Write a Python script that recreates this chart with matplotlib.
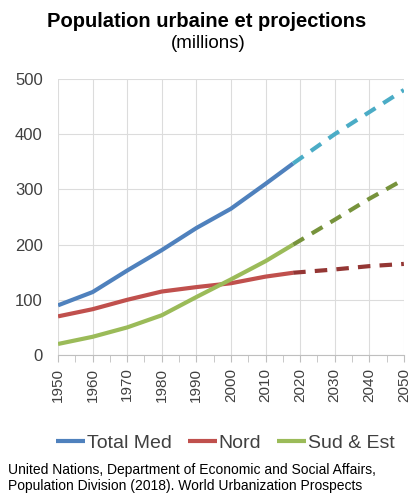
import matplotlib.pyplot as plt
import numpy as np

plt.rcParams['font.family'] = ['Liberation Sans', 'DejaVu Sans']

# historical values (millions)
years_hist = [1950, 1960, 1970, 1980, 1990, 2000, 2010, 2018]
total_hist = [90, 114, 153, 190, 230, 265, 310, 347]
nord_hist = [70, 83, 100, 115, 123, 130, 142, 149]
sud_hist = [20, 33, 50, 72, 105, 137, 170, 200]

# projections
years_proj = [2018, 2030, 2040, 2050]
total_proj = [347, 400, 440, 480]
nord_proj = [149, 155, 161, 165]
sud_proj = [200, 245, 283, 318]

xticks = list(range(1950, 2051, 10))
yticks = [0, 100, 200, 300, 400, 500]

fig = plt.figure(figsize=(4.1, 5.03), dpi=100)
ax = fig.add_axes([0.1415, 0.2942, 0.8435, 0.5488])

ax.plot(years_hist, total_hist, color='#4F81BD', lw=3, label='Total Med', solid_capstyle='butt')
ax.plot(years_hist, nord_hist, color='#C0504D', lw=3, label='Nord', solid_capstyle='butt')
ax.plot(years_hist, sud_hist, color='#9BBB59', lw=3, label='Sud & Est', solid_capstyle='butt')

ax.plot(years_proj, total_proj, color='#4BACC6', lw=3, dashes=(3, 2.2))
ax.plot(years_proj, nord_proj, color='#943634', lw=3, dashes=(3, 2.2))
ax.plot(years_proj, sud_proj, color='#77933C', lw=3, dashes=(3, 2.2))

ax.set_xlim(1950, 2050)
ax.set_ylim(0, 500)
ax.set_xticks(xticks)
ax.set_xticks(range(1955, 2050, 10), minor=True)
ax.set_yticks(yticks)
ax.set_xticklabels([str(y) for y in xticks], rotation=90, fontsize=11, color='#404040')
ax.set_yticklabels([str(y) for y in yticks], fontsize=12, color='#404040')
ax.grid(True, color='#dcdcdc', lw=0.8)
ax.set_axisbelow(True)
for s in ['top', 'right', 'left']:
    ax.spines[s].set_visible(False)
ax.spines['bottom'].set_color('#bfbfbf')
ax.tick_params(axis='x', which='both', direction='out', length=5, color='#bfbfbf', pad=4)
ax.tick_params(axis='y', length=0, pad=11)

fig.text(0.503, 0.958, 'Population urbaine et projections', ha='center', va='center',
         fontsize=14.5, fontweight='bold')
fig.text(0.508, 0.914, '(millions)', ha='center', va='center', fontsize=13.5)

fig.legend(loc='center', bbox_to_anchor=(0.55, 0.119), ncol=3, frameon=False,
           fontsize=14, handlelength=1.5, handletextpad=0.1, columnspacing=0.8,
           labelcolor='#404040')

fig.text(0.02, 0.0656, 'United Nations, Department of Economic and Social Affairs,',
         ha='left', va='center', fontsize=10)
fig.text(0.02, 0.0338, 'Population Division (2018). World Urbanization Prospects',
         ha='left', va='center', fontsize=10)

fig.savefig('out.png', dpi=100)
